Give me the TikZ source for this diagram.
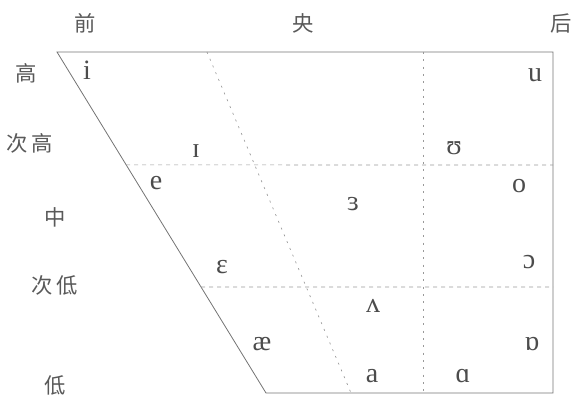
\documentclass[tikz,border=0pt]{standalone}
\usepackage{fontspec}
\setmainfont{Liberation Serif}
\newfontfamily\cjk{Noto Sans CJK SC}
\usetikzlibrary{calc}

\begin{document}
\begin{tikzpicture}[x=0.75pt, y=-0.75pt, line width=0.6pt]

    % 样式
    \tikzset{
      edge/.style={draw=black!55},
      grid/.style={draw=black!40, line width=0.5pt, dash pattern=on 3pt off 3pt},
      slant/.style={draw=black!40, line width=0.5pt, dash pattern=on 1.5pt off 4pt},
      vowel/.style={text=black!70, font=\fontsize{21}{21}\selectfont, anchor=base, inner sep=0pt},
      tag/.style={text=black!65, font=\cjk\fontsize{16}{16}\selectfont, inner sep=0pt}
    }
    \useasboundingbox (0,0) rectangle (573,395);

    % 定义梯形的四个角
    \coordinate (TL) at (57,52);
    \coordinate (TR) at (553,52);
    \coordinate (BR) at (553,393);
    \coordinate (BL) at (266,393);

    % 1. 绘制外框
    \draw[edge] (BL) -- (TL) -- (TR) -- (BR) -- cycle;

    % 2. 绘制水平虚线 (次高/中, 中/次低)
    \coordinate (H1) at ($(TL)!0.331!(BL)$);
    \coordinate (H1r) at (553,165);
    \coordinate (H2) at ($(TL)!0.689!(BL)$);
    \coordinate (H2r) at (553,287);
    \draw[grid] (H1) -- (H1r);
    \draw[grid] (H2) -- (H2r);

    % 3. 绘制竖直虚线和斜虚线
    \coordinate (V1) at (423,52);
    \coordinate (V2) at (423,393);
    \coordinate (S1) at (207,52);
    \coordinate (S2) at (351,393);
    \draw[slant] (V1) -- (V2);
    \draw[slant] (S1) -- (S2);

    % 4. 舌位标注
    \node[tag] (qian) at (85,23) {前};
    \node[tag] (yang) at (303,23) {央};
    \node[tag] (hou) at (561,24) {后};
    \node[tag] (gao) at (26,73) {高};
    \node[tag] (cigao) at (30,143) {次\,高};
    \node[tag] (zhong) at (55,217) {中};
    \node[tag] (cidi) at (55,285) {次\,低};
    \node[tag] (di) at (55,385) {低};

    % 5. 元音
    \node[vowel] (vi) at (87,80) {i};
    \node[vowel] (vu) at (535,82) {u};
    \node[vowel] (vI) at (196,158) {ɪ};
    \node[vowel] (vU) at (454,155) {ʊ};
    \node[vowel] (ve) at (156,190) {e};
    \node[vowel] (vo) at (519,192) {o};
    \node[vowel] (vER) at (353,210) {ɜ};
    \node[vowel] (vE) at (222,273) {ɛ};
    \node[vowel] (vO) at (529,268) {ɔ};
    \node[vowel] (vV) at (373,312) {ʌ};
    \node[vowel] (vae) at (262,350) {æ};
    \node[vowel] (vQ) at (532,350) {ɒ};
    \node[vowel] (va) at (372,382) {a};
    \node[vowel] (vA) at (463,382) {ɑ};

\end{tikzpicture}
\end{document}
